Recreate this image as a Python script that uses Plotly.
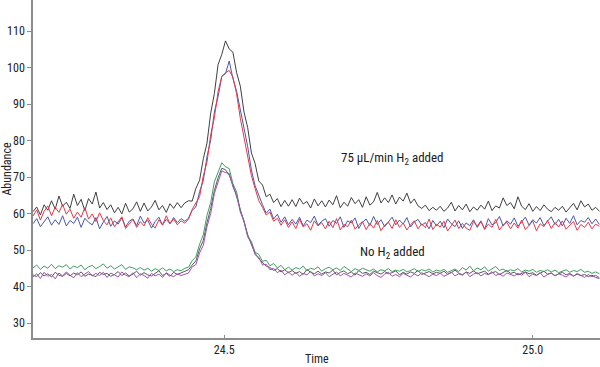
import plotly.graph_objects as go

t_start = 24.19
t_step = 0.006
n_pts = 154
times = [round(t_start + t_step * i, 4) for i in range(n_pts)]

black_h2 = [
    60.5, 61.8, 59.6, 62.4, 60.9, 63.5, 61.2, 64.8, 62.0, 63.1,
    61.4, 65.3, 62.2, 63.9, 60.8, 64.1, 62.6, 65.9, 61.5, 63.0,
    61.1, 62.4, 60.2, 61.7, 59.9, 62.8, 60.4, 61.3, 63.2, 60.6,
    62.9, 60.7, 61.8, 63.6, 61.0, 62.2, 60.3, 62.7, 61.4, 63.0,
    61.6, 62.9, 63.5, 63.4, 66.9, 69.1, 75.0, 79.3, 87.5, 92.9,
    100.8, 103.6, 107.3, 105.1, 104.2, 98.6, 94.9, 87.8, 83.5, 76.6,
    73.7, 68.9, 67.8, 64.6, 65.3, 63.0, 64.1, 61.9, 63.6, 62.0,
    63.8, 61.9, 64.2, 62.6, 63.3, 61.5, 64.0, 62.1, 63.5, 61.8,
    63.7, 62.4, 64.9, 61.6, 63.1, 62.0, 64.4, 62.7, 63.8, 61.7,
    64.6, 62.3, 63.2, 65.8, 62.9, 64.3, 63.0, 65.1, 62.6, 64.5,
    63.4, 65.6, 62.8, 64.0, 62.1, 61.4, 62.3, 60.8, 61.7, 60.9,
    62.0, 60.6, 61.5, 63.1, 60.7, 62.2, 61.0, 62.6, 60.5, 61.8,
    60.9, 62.3, 61.2, 63.4, 60.8, 62.1, 61.5, 64.3, 62.2, 63.0,
    61.3, 64.6, 62.0, 61.1, 62.7, 60.6, 61.9, 60.8, 62.4, 61.2,
    60.5, 61.7, 60.9, 62.0, 60.4, 61.6, 62.8, 61.0, 63.5, 61.8,
    62.6, 60.9, 61.7, 60.6,
]

blue_h2 = [
    57.2, 58.6, 56.4, 57.9, 59.1, 56.8, 58.3, 57.0, 59.4, 56.6,
    58.1, 57.3, 59.0, 56.2, 58.7, 57.6, 56.9, 58.9, 55.8, 57.7,
    59.2, 56.5, 58.0, 57.1, 58.8, 56.3, 57.9, 58.5, 56.7, 59.3,
    57.4, 58.2, 56.0, 57.8, 59.0, 56.9, 58.4, 57.2, 58.9, 57.5,
    58.6, 57.9, 58.7, 60.9, 61.8, 66.0, 69.0, 75.6, 80.1, 87.8,
    92.0, 97.6, 98.3, 101.8, 97.0, 93.5, 88.9, 83.4, 78.3, 71.9,
    67.6, 64.9, 62.4, 60.1, 61.2, 58.5, 59.8, 57.6, 59.1, 56.9,
    58.4, 57.1, 59.0, 56.6, 58.2, 57.5, 59.3, 56.8, 57.9, 58.6,
    56.5, 58.1, 57.3, 59.1, 56.2, 58.0, 57.4, 58.8, 55.9, 57.6,
    58.5, 56.7, 59.2, 57.0, 58.3, 56.4, 57.8, 59.0, 56.9, 58.2,
    57.1, 58.9, 56.3, 57.7, 58.4, 56.8, 57.5, 55.8, 58.1, 56.6,
    57.9, 56.1, 58.5, 57.2, 56.4, 58.0, 55.9, 57.4, 56.7, 58.3,
    56.2, 57.8, 55.7, 58.6, 56.9, 57.5, 59.2, 56.6, 58.0, 57.1,
    58.8, 56.5, 57.7, 59.0, 56.8, 58.3, 57.4, 58.9, 56.7, 57.9,
    59.1, 57.0, 58.4, 56.6, 58.7, 57.3, 59.4, 56.9, 58.1, 57.6,
    58.9, 57.2, 58.5, 57.0,
]

red_h2 = [
    59.3, 61.0, 58.2, 60.6, 62.1, 59.4, 61.7, 60.3, 62.5, 59.8,
    61.2, 58.7, 60.4, 59.0, 61.6, 58.5, 59.9, 57.8, 60.2, 58.1,
    56.9, 58.8, 56.4, 57.6, 59.1, 55.9, 57.3, 58.4, 56.2, 57.8,
    56.6, 58.9, 57.1, 56.0, 58.3, 56.8, 59.4, 57.2, 58.5, 56.9,
    58.0, 57.4, 58.4, 61.1, 62.9, 64.6, 70.3, 74.1, 81.6, 86.3,
    93.4, 97.5, 98.6, 99.2, 97.4, 92.8, 86.1, 80.7, 75.6, 70.4,
    66.8, 63.5, 61.7, 59.6, 60.4, 57.9, 58.7, 56.8, 58.3, 56.2,
    57.7, 55.9, 58.4, 56.3, 57.2, 55.4, 58.0, 56.6, 57.5, 55.8,
    57.9, 56.1, 58.6, 55.5, 57.0, 56.4, 58.2, 55.7, 56.9, 57.8,
    55.6, 57.3, 56.0, 58.1, 55.3, 56.8, 57.6, 55.9, 58.3, 56.2,
    57.4, 55.5, 56.9, 58.0, 55.8, 57.2, 56.1, 58.5, 55.6, 57.0,
    56.3, 57.9, 55.2, 56.7, 58.2, 55.9, 57.3, 56.0, 55.4, 57.8,
    56.5, 58.0, 55.7, 57.1, 56.2, 58.4, 55.5, 56.9, 57.6, 55.8,
    57.4, 56.0, 58.2, 55.6, 56.8, 57.9, 55.3, 57.2, 56.4, 58.1,
    55.9, 57.5, 56.3, 58.0, 55.7, 56.9, 57.8, 55.4, 57.0, 56.2,
    57.6, 55.8, 57.1, 56.5,
]

green_none = [
    45.1, 45.9, 44.7, 45.6, 45.0, 46.1, 44.9, 45.7, 45.3, 46.0,
    44.8, 45.6, 45.2, 45.9, 44.6, 45.4, 45.8, 44.9, 45.5, 46.2,
    45.0, 45.7, 44.8, 45.3, 46.0, 44.7, 45.4, 45.1, 44.6, 45.2,
    44.5, 45.0, 44.2, 44.9, 44.4, 45.1, 44.3, 44.8, 44.1, 44.6,
    44.3, 45.0, 45.3, 47.1, 48.1, 51.6, 54.2, 59.5, 63.0, 68.7,
    71.1, 73.9, 72.8, 72.3, 68.2, 65.9, 60.8, 58.1, 53.9, 52.3,
    49.4, 48.8, 46.9, 47.2, 45.7, 46.3, 45.1, 45.8, 44.6, 45.3,
    44.5, 45.2, 44.8, 45.6, 44.3, 45.0, 44.7, 45.4, 44.2, 44.9,
    45.3, 44.6, 45.1, 44.4, 45.5, 44.7, 44.1, 44.9, 44.4, 45.0,
    44.5, 44.2, 44.8, 44.0, 44.6, 44.3, 44.9, 44.1, 44.5, 44.2,
    44.7, 44.0, 44.4, 44.9, 44.1, 44.6, 44.3, 44.8, 44.0, 44.5,
    44.2, 44.7, 43.9, 44.4, 44.8, 44.1, 45.2, 44.5, 45.6, 44.3,
    45.1, 44.6, 45.4, 44.2, 44.9, 45.5, 44.4, 44.8, 44.1, 44.6,
    44.3, 44.9, 44.0, 44.5, 44.2, 44.7, 43.9, 44.4, 44.1, 44.6,
    44.0, 44.5, 43.8, 44.3, 44.6, 43.9, 44.4, 44.1, 44.7, 43.9,
    44.2, 43.6, 44.0, 43.5,
]

purple_none = [
    42.6, 43.5, 42.2, 43.9, 42.8, 43.3, 42.1, 43.7, 42.9, 44.0,
    43.1, 42.4, 43.8, 42.7, 43.4, 44.1, 42.9, 43.6, 43.0, 43.9,
    42.5, 43.7, 43.2, 42.6, 44.0, 43.1, 42.7, 43.8, 42.4, 43.5,
    43.0, 42.3, 43.6, 42.9, 43.4, 42.5, 43.8, 43.1, 42.7, 43.5,
    43.0, 43.4, 43.7, 45.4, 46.0, 49.2, 51.3, 56.4, 60.0, 65.5,
    68.4, 71.7, 71.2, 71.0, 67.3, 65.2, 60.4, 57.9, 53.6, 51.9,
    48.7, 48.0, 45.9, 46.1, 44.6, 45.0, 43.8, 44.5, 43.2, 44.0,
    43.1, 43.9, 42.8, 43.6, 43.2, 44.2, 42.9, 43.5, 43.0, 43.8,
    42.7, 43.4, 44.0, 42.9, 43.6, 43.1, 42.6, 43.7, 43.2, 42.8,
    43.5, 42.9, 43.8, 43.0, 42.5, 43.4, 43.9, 42.8, 43.3, 42.7,
    43.6, 43.1, 42.6, 43.5, 42.9, 43.8, 43.2, 42.7, 43.4, 43.0,
    43.7, 42.8, 43.3, 44.0, 42.9, 43.5, 43.1, 43.9, 42.7, 43.4,
    43.8, 42.9, 43.6, 43.2, 44.1, 43.0, 43.5, 42.8, 43.7, 43.3,
    42.9, 43.6, 43.1, 43.9, 42.7, 43.4, 43.0, 43.8, 42.6, 43.3,
    43.7, 42.9, 43.5, 43.1, 42.6, 43.4, 42.8, 43.6, 43.0, 42.5,
    43.3, 42.7, 43.1, 42.4,
]

gray_none = [
    43.2, 42.7, 43.8, 42.9, 43.5, 42.6, 43.9, 43.1, 42.8, 43.6,
    42.9, 43.7, 43.2, 44.0, 42.8, 43.4, 43.1, 42.7, 43.9, 43.3,
    43.6, 42.8, 43.3, 44.1, 43.0, 43.7, 42.9, 43.4, 44.2, 43.1,
    43.8, 43.2, 42.9, 43.7, 44.3, 43.0, 43.6, 42.8, 43.9, 43.3,
    43.7, 44.0, 44.6, 45.9, 47.0, 50.3, 52.6, 57.5, 61.4, 66.3,
    69.8, 72.4, 72.0, 70.5, 67.9, 64.6, 61.1, 57.3, 54.2, 51.5,
    49.1, 47.6, 46.5, 45.6, 45.2, 44.4, 44.9, 44.0, 44.6, 43.8,
    44.4, 43.6, 44.1, 43.3, 44.7, 43.9, 43.5, 44.2, 43.4, 44.0,
    43.7, 44.5, 43.2, 43.9, 44.3, 43.5, 44.0, 43.1, 44.4, 43.6,
    43.9, 43.3, 44.2, 43.7, 43.4, 44.1, 43.5, 43.8, 44.3, 43.2,
    43.9, 43.4, 44.0, 43.6, 44.4, 43.3, 43.8, 44.1, 43.5, 43.9,
    43.6, 44.2, 43.4, 43.8, 44.5, 43.7, 43.2, 44.0, 43.6, 44.3,
    43.5, 43.9, 44.2, 43.4, 43.7, 44.1, 43.3, 43.8, 44.4, 43.6,
    43.9, 43.2, 43.7, 44.0, 43.5, 43.8, 43.1, 43.6, 44.2, 43.4,
    43.7, 43.0, 43.5, 43.9, 43.2, 43.6, 42.9, 43.4, 43.0, 43.3,
    42.7, 43.1, 42.5, 42.2,
]

y_ticks = [30, 40, 50, 60, 70, 80, 90, 100, 110]
x_ticks = [24.5, 25.0]
x_tick_labels = ["24.5", "25.0"]
label_h2 = "75 µL/min H<sub>2</sub> added"
label_none = "No H<sub>2</sub> added"
x_title = "Time"
y_title = "Abundance"

series = [
    (gray_none, "#5a5a5a"),
    (green_none, "#3f9e5e"),
    (purple_none, "#a24db3"),
    (black_h2, "#404040"),
    (blue_h2, "#4a58a8"),
    (red_h2, "#e3384a"),
]

FONT = "Liberation Sans Narrow, Arial Narrow, Roboto Condensed, Liberation Sans, sans-serif"

fig = go.Figure()
for vals, col in series:
    fig.add_trace(go.Scatter(x=times, y=vals, mode="lines",
                             line=dict(color=col, width=1), showlegend=False,
                             hoverinfo="skip"))

fig.add_annotation(x=24.772, y=75.2, text=label_h2, showarrow=False,
                   font=dict(family=FONT, size=13, color="#1a1a1a"))
fig.add_annotation(x=24.773, y=49.2, text=label_none, showarrow=False,
                   font=dict(family=FONT, size=13, color="#1a1a1a"))
fig.add_annotation(xref="paper", yref="paper", x=0.5, y=-0.062,
                   xanchor="center", yanchor="middle", text=x_title,
                   showarrow=False, font=dict(family=FONT, size=12, color="#222"))

fig.update_layout(
    width=600, height=367,
    margin=dict(l=33, r=0, t=0, b=29),
    paper_bgcolor="white", plot_bgcolor="white",
    font=dict(family=FONT, size=12, color="#222"),
    xaxis=dict(range=[24.19, 25.109], tickvals=x_ticks, ticktext=x_tick_labels,
               showgrid=False, zeroline=False, showline=True, linecolor="#8c8c8c",
               linewidth=1.5, ticks="inside", ticklen=3, tickcolor="#8c8c8c",
               automargin=False),
    yaxis=dict(range=[25.9, 118.5], tickvals=y_ticks,
               showgrid=False, zeroline=False, showline=True, linecolor="#8c8c8c",
               linewidth=1.5, ticks="outside", ticklen=4, tickcolor="#8c8c8c",
               title=dict(text=y_title, standoff=2, font=dict(size=12)),
               automargin=False),
)

fig.write_html("out.html", config={"displayModeBar": False},
               post_script="document.body.style.margin='0';document.body.style.overflow='hidden';")
